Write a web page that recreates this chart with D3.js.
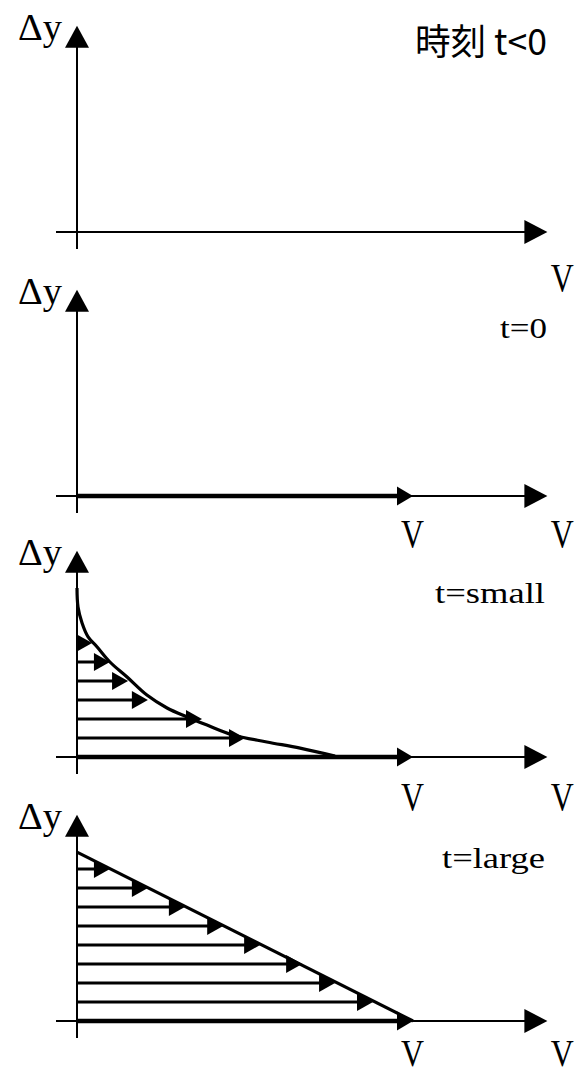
<!DOCTYPE html>
<html>
<head>
<meta charset="utf-8">
<script src="https://cdn.jsdelivr.net/npm/d3@7/dist/d3.min.js"></script>
<style>
  html, body { margin: 0; padding: 0; background: #fff; }
  svg { display: block; }
</style>
</head>
<body>
<script>
// Couette start-up flow: velocity profile between plates at four instants.
// v is the fluid velocity as a fraction of the wall speed V, h the height in layer units.
const panelTitles = ["時刻 t<0", "t=0", "t=small", "t=large"];
const labelDy = "Δy";
const labelV = "V";

// t=small: boundary-layer profile near the moving wall
const smallCurve = [
  [0.000, 8.89], [0.003, 7.89], [0.015, 7.05], [0.033, 6.32], [0.060, 5.79],
  [0.098, 5.00], [0.149, 4.21], [0.208, 3.26], [0.268, 2.58], [0.327, 2.11],
  [0.387, 1.68], [0.464, 1.16], [0.565, 0.79], [0.664, 0.47], [0.768, 0.05]
];
const smallLayers = [1, 2, 3, 4, 5, 6];
const smallArrowV = [0.50, 0.372, 0.211, 0.152, 0.098, 0.045];

// t=large: linear steady profile
const largeProfile = [[0, 8.89], [1, 0]];
const largeLayers = [1, 2, 3, 4, 5, 6, 7, 8];
const largeArrowV = [0.881, 0.768, 0.67, 0.545, 0.435, 0.321, 0.211, 0.098];

// wall velocity is V from t=0 onwards
const wallV = [null, 1, 1, 1];

const W = 581, H = 1075;
const svg = d3.select("body").append("svg").attr("width", W).attr("height", H);

const axisYs = [232, 496, 757, 1021];
const vLabelOffset = [59, 51, 53, 45];
const vLabelSize = [40, 40, 40, 37];
const titleOffset = [177, 158, 154, 153];
const titleRight = [547, 547, 545, 545];
const titleLen = [132, 47, 110, 103];

function arrowRight(g, tx, ty, len, ht) {
  g.append("path")
    .attr("d", `M${tx},${ty} L${tx - len},${ty - ht / 2} L${tx - len},${ty + ht / 2} Z`)
    .attr("fill", "#000");
}
function arrowUp(g, tx, ty, len, wd) {
  g.append("path")
    .attr("d", `M${tx},${ty} L${tx - wd / 2},${ty + len} L${tx + wd / 2},${ty + len} Z`)
    .attr("fill", "#000");
}

panelTitles.forEach((title, i) => {
  const g = svg.append("g");
  const ay = axisYs[i];
  const x = d3.scaleLinear().domain([0, 1]).range([77, 413]);
  const y = d3.scaleLinear().domain([0, 10]).range([ay, ay - 190]);

  // horizontal axis (thin)
  g.append("line")
    .attr("x1", x(-0.0625)).attr("x2", x(1.4) - 20)
    .attr("y1", y(0)).attr("y2", y(0))
    .attr("stroke", "#000").attr("stroke-width", 2);
  arrowRight(g, x(1.4), y(0), 23, 24);

  // vertical axis
  g.append("line")
    .attr("x1", x(0)).attr("x2", x(0))
    .attr("y1", y(-0.9)).attr("y2", y(10.85) + 18)
    .attr("stroke", "#000").attr("stroke-width", 2);
  arrowUp(g, x(0), y(10.85), 22, 24);

  // axis labels
  g.append("text")
    .attr("x", 18).attr("y", y(10.1))
    .attr("font-family", "'Liberation Serif', 'DejaVu Serif', serif")
    .attr("font-size", 38)
    .attr("textLength", 44).attr("lengthAdjust", "spacingAndGlyphs")
    .text(labelDy);

  const vLabelXs = wallV[i] === null ? [1.446] : [wallV[i], 1.446];
  vLabelXs.forEach(v => {
    g.append("text")
      .attr("x", x(v) - 12).attr("y", ay + vLabelOffset[i])
      .attr("font-family", "'Liberation Serif', 'DejaVu Serif', serif")
      .attr("font-size", vLabelSize[i])
      .attr("textLength", 23).attr("lengthAdjust", "spacingAndGlyphs")
      .text(labelV);
  });

  // panel title
  const cjk = i === 0;
  g.append("text")
    .attr("x", titleRight[i] - titleLen[i]).attr("y", ay - titleOffset[i])
    .attr("font-family", cjk ? "'Noto Sans CJK JP', sans-serif" : "'Liberation Serif', serif")
    .attr("font-size", cjk ? 36 : 30)
    .attr("textLength", titleLen[i]).attr("lengthAdjust", "spacingAndGlyphs")
    .text(title);

  // moving wall: thick arrow along the axis
  if (wallV[i] !== null) {
    g.append("line")
      .attr("x1", x(0)).attr("x2", x(wallV[i]) - 13)
      .attr("y1", y(0)).attr("y2", y(0))
      .attr("stroke", "#000").attr("stroke-width", 4.5);
    arrowRight(g, x(wallV[i]), y(0), 16, 19);
  }

  // velocity layers
  let layers = [], arrowV = [], profile = null, curve = d3.curveLinear;
  if (i === 2) { layers = smallLayers; arrowV = smallArrowV; profile = smallCurve; curve = d3.curveCatmullRom; }
  if (i === 3) { layers = largeLayers; arrowV = largeArrowV; profile = largeProfile; }

  layers.forEach((h, k) => {
    const tip = x(arrowV[k]);
    g.append("line")
      .attr("x1", x(0)).attr("x2", Math.max(x(0), tip - 10))
      .attr("y1", y(h)).attr("y2", y(h))
      .attr("stroke", "#000").attr("stroke-width", 3);
    arrowRight(g, tip, y(h), 16, 18);
  });

  if (profile) {
    g.append("path")
      .datum(profile)
      .attr("d", d3.line().x(d => x(d[0])).y(d => y(d[1])).curve(curve))
      .attr("fill", "none").attr("stroke", "#000").attr("stroke-width", 3.2);
  }
});
</script>
</body>
</html>
